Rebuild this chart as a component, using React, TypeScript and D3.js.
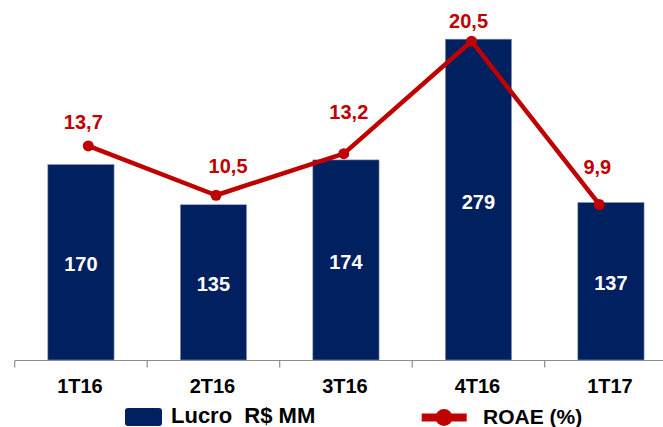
import React from "react";
import * as d3 from "d3";

const categories = ["1T16", "2T16", "3T16", "4T16", "1T17"];
const lucro = [170, 135, 174, 279, 137];
const roae = [13.7, 10.5, 13.2, 20.5, 9.9];
const roaeLabels = ["13,7", "10,5", "13,2", "20,5", "9,9"];
const legendLabels = ["Lucro  R$ MM", "ROAE (%)"];

// layout constants (label offsets from each ROAE point)
const labelDx = [-5, 12, 5, -3, -2];
const labelDy = [-17, -22, -35, -13, -30];

const W = 663;
const H = 427;
const NAVY = "#002060";
const RED = "#C00000";
const FONT = "'Liberation Sans', Arial, sans-serif";

export default function App() {
  const x = d3.scaleBand<string>().domain(categories).range([14.7, 677.2]).padding(0.5).paddingOuter(0.25);
  const xBand = d3.scaleBand<string>().domain(categories).range([14.7, 677.2]).paddingInner(0).paddingOuter(0);
  const yBar = d3.scaleLinear().domain([0, 300]).range([360, 15]);
  const xLine = d3.scalePoint<string>().domain(categories).range([88.3, 599.3]);
  const yLine = d3.scaleLinear().domain([0, 22.2]).range([357, 15]);

  const line = d3
    .line<number>()
    .x((_, i) => xLine(categories[i]) as number)
    .y((d) => yLine(d));

  const bw = x.bandwidth();
  const ticks = categories.map((c) => xBand(c) as number);

  return (
    <svg
      width={W}
      height={H}
      style={{ position: "absolute", left: 0, top: 0, background: "#fff" }}
      fontFamily={FONT}
      fontWeight="bold"
    >
      {/* bars */}
      {categories.map((c, i) => (
        <rect
          key={c}
          x={x(c)}
          y={yBar(lucro[i])}
          width={bw}
          height={yBar(0) - yBar(lucro[i])}
          fill={NAVY}
          stroke="#8d9bb8"
          strokeWidth={0.6}
        />
      ))}
      {/* bar value labels */}
      {categories.map((c, i) => (
        <text
          key={"bl" + c}
          x={(x(c) as number) + bw / 2}
          y={(yBar(lucro[i]) + yBar(0)) / 2 + 9}
          textAnchor="middle"
          fill="#fff"
          fontSize={20}
        >
          {lucro[i]}
        </text>
      ))}
      {/* x axis */}
      <line x1={14.7} x2={W} y1={360.5} y2={360.5} stroke="#8c8c8c" strokeWidth={1.2} />
      {ticks.map((t, i) => (
        <line key={"t" + i} x1={t} x2={t} y1={360.5} y2={367.5} stroke="#8c8c8c" strokeWidth={1.2} />
      ))}
      {categories.map((c) => (
        <text
          key={"cl" + c}
          x={(xBand(c) as number) + xBand.bandwidth() / 2 - 1}
          y={393.3}
          textAnchor="middle"
          fill="#000"
          fontSize={20}
        >
          {c}
        </text>
      ))}
      {/* ROAE line */}
      <path d={line(roae) || ""} fill="none" stroke={RED} strokeWidth={4.5} strokeLinejoin="round" />
      {roae.map((v, i) => (
        <circle key={"p" + i} cx={xLine(categories[i])} cy={yLine(v)} r={5.5} fill={RED} />
      ))}
      {roae.map((v, i) => (
        <text
          key={"rl" + i}
          x={(xLine(categories[i]) as number) + labelDx[i]}
          y={yLine(v) + labelDy[i]}
          textAnchor="middle"
          fill={RED}
          fontSize={20}
        >
          {roaeLabels[i]}
        </text>
      ))}
      {/* legend */}
      <rect x={125} y={408} width={37} height={18} rx={3} fill={NAVY} />
      <text x={171} y={423.3} fontSize={22} fill="#000" style={{ whiteSpace: "pre" }}>
        {legendLabels[0]}
      </text>
      <line x1={421.7} x2={466.7} y1={417.5} y2={417.5} stroke={RED} strokeWidth={8} />
      <circle cx={444} cy={417.5} r={8.5} fill={RED} />
      <text x={483} y={424.3} fontSize={21} fill="#000">
        {legendLabels[1]}
      </text>
    </svg>
  );
}
